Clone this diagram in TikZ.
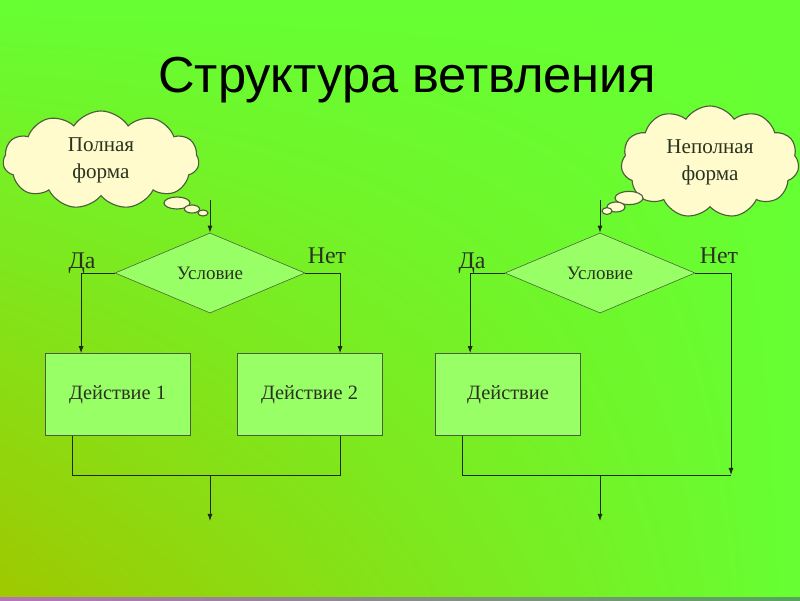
\documentclass[tikz,border=0pt]{standalone}
\usepackage{fontspec}
\setmainfont{Liberation Serif}
\newfontfamily\titlefont{Liberation Sans}
\usetikzlibrary{shapes.geometric,shapes.symbols,arrows.meta,calc,shadings}
\definecolor{bgbright}{HTML}{66FF33}
\definecolor{bgolive}{HTML}{A0C800}
\definecolor{boxgreen}{HTML}{99FF66}
\definecolor{cloudcream}{HTML}{FFFBCC}
\definecolor{edgegray}{HTML}{4A5E3A}
\definecolor{flowline}{HTML}{1E2A14}
\definecolor{inktext}{HTML}{2A3320}
\tikzset{
    cond/.style={diamond,draw=edgegray,fill=boxgreen,aspect=2.375,
        minimum width=4.75cm,minimum height=2cm,inner sep=0pt,text=inktext,
        font=\fontsize{13.5}{15}\selectfont},
    action/.style={rectangle,draw=edgegray,fill=boxgreen,text=inktext,
        minimum width=3.625cm,minimum height=2.05cm,
        font=\fontsize{14.5}{16}\selectfont},
    thought/.style={cloud,cloud puffs=11,cloud puff arc=115,cloud ignores aspect,
        draw=edgegray,line width=0.8pt,fill=cloudcream,align=center,text=inktext,
        font=\fontsize{15}{19}\selectfont},
    bubble/.style={ellipse,draw=edgegray,line width=0.8pt,fill=cloudcream,inner sep=0pt},
    flow/.style={draw=flowline,line width=0.6pt},
    arr/.style={flow,-{Latex[length=5pt,width=3.5pt]}},
    answer/.style={anchor=base,text=inktext,font=\fontsize{17}{19}\selectfont}
}
\begin{document}
\begin{tikzpicture}[x=0.025cm,y=-0.025cm]
    % background
    \shade[lower left=bgolive,upper left=bgbright,upper right=bgbright,lower right=bgbright]
        (0,0) rectangle (800,600);
    \shade[left color=violet!55!white,right color=gray!70!green] (0,597) rectangle (800,600);
    \useasboundingbox (0,0) rectangle (800,600);
    \node[anchor=base,font=\titlefont\fontsize{36}{40}\selectfont] (title) at (407,92) {Структура ветвления};

    % full form
    \node[thought,minimum width=4.9cm,minimum height=2.45cm] (cloudL) at (101,160) {Полная\\форма};
    \node[bubble,minimum width=0.65cm,minimum height=0.3cm] (tailLa) at (177,203) {};
    \node[bubble,minimum width=0.38cm,minimum height=0.2cm] (tailLb) at (192,209) {};
    \node[bubble,minimum width=0.25cm,minimum height=0.15cm] (tailLc) at (203,213) {};
    \node[cond] (condL) at (210,273) {Условие};
    \node[action] (actL1) at (117.5,394.5) {Действие 1};
    \node[action] (actL2) at (309.5,394.5) {Действие 2};
    \node[answer] (yesL) at (82,268) {Да};
    \node[answer] (noL) at (327,263) {Нет};
    \coordinate (inL) at (210,200);
    \coordinate (joinL) at (210,475);
    \coordinate (outL) at (210,521);
    \draw[arr] (inL) -- (condL.north);
    \draw[arr] (condL.west) -| ($(actL1.north west)!0.25!(actL1.north east)$);
    \draw[arr] (condL.east) -| ($(actL2.north west)!0.71!(actL2.north east)$);
    \draw[flow] ($(actL1.south west)!0.19!(actL1.south east)$) |- (joinL)
        -| ($(actL2.south west)!0.71!(actL2.south east)$);
    \draw[arr] (joinL) -- (outL);

    % short form
    \node[thought,minimum width=4.45cm,minimum height=2.8cm] (cloudR) at (710,162) {Неполная\\форма};
    \node[bubble,minimum width=0.7cm,minimum height=0.33cm] (tailRa) at (629,198) {};
    \node[bubble,minimum width=0.45cm,minimum height=0.25cm] (tailRb) at (616,207) {};
    \node[bubble,minimum width=0.25cm,minimum height=0.17cm] (tailRc) at (607,211) {};
    \node[cond] (condR) at (600,273) {Условие};
    \node[action] (actR) at (508,394.5) {Действие};
    \node[answer] (yesR) at (472,268) {Да};
    \node[answer] (noR) at (719,263) {Нет};
    \coordinate (inR) at (600,200);
    \coordinate (skipR) at (731,475);
    \coordinate (joinR) at (600,475);
    \coordinate (outR) at (600,521);
    \draw[arr] (inR) -- (condR.north);
    \draw[arr] (condR.west) -| ($(actR.north west)!0.24!(actR.north east)$);
    \draw[arr] (condR.east) -| (skipR);
    \draw[flow] ($(actR.south west)!0.19!(actR.south east)$) |- (skipR);
    \draw[arr] (joinR) -- (outR);
\end{tikzpicture}
\end{document}
